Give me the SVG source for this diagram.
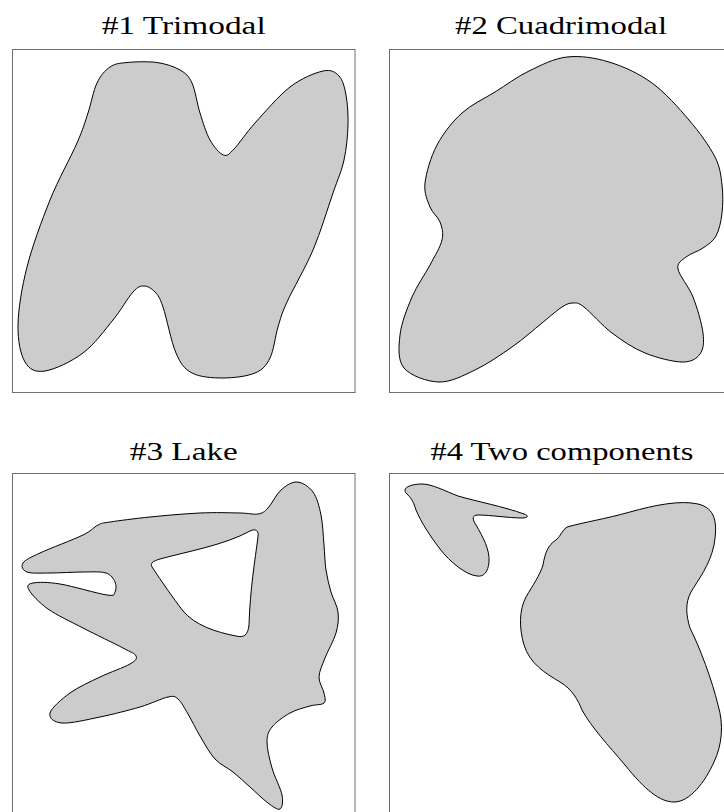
<svg xmlns="http://www.w3.org/2000/svg" width="724" height="812" viewBox="0 0 724 812">
<style>
.title{font-family:"Liberation Serif","Times New Roman",serif;font-size:25px;fill:#000;text-anchor:middle}
.frame{fill:none;stroke:#6e6e6e;stroke-width:1}
.blob{fill:#cccccc;stroke:#000;stroke-width:1;fill-rule:evenodd}
</style>
<rect width="724" height="812" fill="#fff"/>
<g id="panel1">
<text class="title" x="183.7" y="33.5" textLength="164" lengthAdjust="spacingAndGlyphs">#1 Trimodal</text>
<rect class="frame" x="12.5" y="49.5" width="342.5" height="343"/>
<path class="blob" d="M127,62.5 C134.8,61.75 148.2,61.25 157,62.5 S174.2,66.6 180,70 S188.7,75.8 192,83 S197,103.5 200,113 S206.1,133 210,140 S219.5,153.5 223.5,155 S228.75,154.3 234,149 S245.7,133.3 255,123 S278.7,95.7 290,87 S314.8,72.8 323,71 S335.2,72 339,76 S344.5,86.8 346,95 S348.3,114.2 348,125 S346.5,148.7 344,160 S338.2,178 333,193 S320.7,231.8 313,250 S292.8,289.2 287,302 S280.8,317.7 278,327 S273.8,350.3 270,358 S262.8,369.7 255,373 S233.5,378 223,378 S199.8,377.2 192,373 S180.8,364 176,353 S166.5,317.2 163,307 S158.2,295.5 155,292 S147.7,286 144,286 S138.2,286.3 133,292 S121.3,309.8 113,320 S94.3,344.5 83,353 S54.7,369.5 45,371 S29.5,369.7 25,362 S17.7,340.8 18,325 S21.7,287.8 27,267 S41.7,220.7 50,200 S70.7,157.5 77,143 S84.7,123 88,113 S93.3,90.7 97,83 S105,70.4 110,67 S119.2,63.25 127,62.5 Z"/>
</g>
<g id="panel2">
<text class="title" x="561" y="33.5" textLength="212" lengthAdjust="spacingAndGlyphs">#2 Cuadrimodal</text>
<rect class="frame" x="389.5" y="49.5" width="343" height="343"/>
<path class="blob" d="M567,57 C553.7,58.5 541,65.2 529,71 S506.2,85 495,92 S471.7,104.2 462,113 S443.2,133.3 437,145 S426.2,172.7 425,183 S427.5,200.5 430,207 S438,216.5 440,222 S443.7,232.8 442,240 S435,255.5 430,265 S417,285.3 412,297 S401.3,323.2 400,335 S397.5,360.2 404,368 S427.2,381.7 439,382 S462.8,375.8 475,370 S500.8,354.8 512,347 S533.7,329.7 542,323 S556.8,310.3 562,307 S569.3,303 573,303 S577.5,302 584,307 S601.8,325.3 612,333 S633.3,348.2 645,353 S672.8,361.8 682,362 S696.5,358.8 700,354 S704.2,342.5 703,333 S697.2,307.7 693,297 S679.2,275.7 678,269 S681.8,260.5 686,257 S698,251.5 703,248 S712.8,241.8 716,236 S721,221.5 722,213 S723.2,194.3 722,185 S720.5,167.8 715,157 S699.5,132.3 689,120 S665.3,92.7 652,83 S623.2,66.3 609,62 S580.3,55.5 567,57 Z"/>
</g>
<g id="panel3">
<text class="title" x="183.8" y="459.5" textLength="108" lengthAdjust="spacingAndGlyphs">#3 Lake</text>
<rect class="frame" x="12.5" y="473.5" width="342.5" height="343"/>
<path class="blob" d="M258,514 C262.7,513.2 264.2,512 268,508 S276.2,494.3 281,490 S291.7,481.7 297,482 S309,486.5 313,492 S319.2,506.2 321,515 S323.2,535.8 324,545 S324.8,562.2 326,570 S329,585 331,592 S337.2,605.2 338,612 S338.2,625.3 336,633 S327.8,650.7 325,658 S319.2,671.2 319,677 S323.2,688.7 324,693 S326.3,700.8 324,703 S315.7,704.3 310,706 S296.3,709.5 290,713 S275.8,722.2 272,727 S267,735.2 267,742 S269.5,759.2 272,768 S280.7,788.2 282,795 S282.3,807.7 280,809 S273,806.7 268,803 S255.8,792.2 250,787 S238.8,776.7 233,772 S220.5,765 215,759 S204.5,743.5 200,736 S191.7,720.2 188,714 S181.3,701.8 178,699 S174.3,695.7 168,697 S151.3,703.7 140,707 S113,714.3 100,717 S70.3,723.7 62,723 S48.7,718 50,713 S61.7,699 70,693 S90,681.8 100,677 S124,667.5 130,664 S137.2,658.7 136,656 S131.8,652.7 123,648 S95.5,634.5 83,628 S57,615.3 48,609 S31.5,594.3 29,590 S27.8,584 33,583 S47.7,582 60,584 S97.8,593.7 107,595 S113.7,594.2 115,592 S116.5,585.2 115,582 S111.3,574.7 106,573 S92.3,572 83,572 S59.3,573 50,573 S31.5,573.7 27,572 S20.8,566.2 23,563 S30,557.7 40,553 S73.3,539.7 83,535 S93.5,527.2 98,525 S101.3,523.3 110,522 S135,518.5 150,517 S185,513.7 200,513 S230.3,512.8 240,513 S253.3,514.8 258,514 Z M152,567 C150,563 153,561 160,559 C185,552 225,545 250,531 C256,528 259,531 258,537 C255,560 250,590 249,625 C248,635 244,638 236,636 C215,632 195,625 183,611 C173,598 162,582 152,567 Z"/>
</g>
<g id="panel4">
<text class="title" x="562" y="459.5" textLength="263" lengthAdjust="spacingAndGlyphs">#4 Two components</text>
<rect class="frame" x="389.5" y="473.5" width="343" height="343"/>
<path class="blob" d="M405,490 C405,487 412,484 422,484 C432,484 445,491 458,496 C475,501 505,507 524,514 C530,516 527,518 522,518 C510,518 490,515 478,515 C472,515 472,519 476,525 C483,537 490,550 489,562 C488,572 484,577 477,576 C466,575 450,562 440,549 C430,536 421,522 416,510 C413,500 410,497 407,494 C405,492 405,491 405,490 Z"/>
<path class="blob" d="M567,527 C585,522 605,519 630,512 C655,505 680,500 698,504 C715,508 718,522 714,545 C710,565 698,580 691,592 C685,603 686,615 690,628 C700,648 712,680 718,705 C724,725 722,745 714,762 C705,782 690,802 674,802 C660,802 645,790 625,765 C608,745 592,728 582,710 C578,700 572,689 560,682 C545,673 530,664 524,645 C519,628 519,610 526,597 C533,585 540,575 543,565 C545,553 548,545 556,540 C561,536 562,530 567,527 Z"/>
</g>
</svg>
